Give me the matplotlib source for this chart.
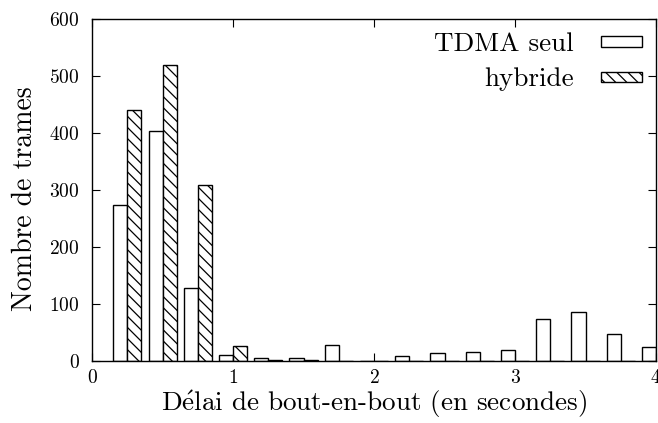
import matplotlib
matplotlib.use("Agg")
import matplotlib.pyplot as plt
import numpy as np

plt.rcParams['font.family'] = ['cmr10', 'DejaVu Serif']
plt.rcParams['mathtext.fontset'] = 'cm'
plt.rcParams['axes.formatter.use_mathtext'] = True
plt.rcParams['hatch.linewidth'] = 0.9

# delay bins (seconds)
delays = [0.25, 0.5, 0.75, 1.0, 1.25, 1.5, 1.75, 2.0,
          2.25, 2.5, 2.75, 3.0, 3.25, 3.5, 3.75, 4.0]
tdma_seul = [274, 404, 128, 11, 5, 5, 28, 0, 9, 14, 16, 19, 73, 85, 47, 25]
hybride = [441, 519, 308, 26, 2, 2, 0, 0, 0, 0, 0, 0, 0, 0, 0, 0]

x = np.array(delays)
w = 0.1

fig = plt.figure(figsize=(6.58, 4.23), dpi=100)
ax = fig.add_axes([0.14, 0.147, 0.857, 0.808])

ax.bar(x - w / 2, tdma_seul, width=w, color='white', edgecolor='black',
       linewidth=1, label='TDMA seul')
ax.bar(x + w / 2, hybride, width=w, color='white', edgecolor='black',
       linewidth=1, hatch='\\\\\\', label='hybride')

ax.set_xlim(0, 4)
ax.set_ylim(0, 600)
ax.set_xticks([0, 1, 2, 3, 4])
ax.set_yticks(range(0, 601, 100))
ax.tick_params(direction='in', length=6, top=True, right=True,
               labelsize=14, width=0.8)
ax.tick_params(axis='y', pad=9)
ax.tick_params(axis='x', pad=6)
for s in ax.spines.values():
    s.set_linewidth(1)

ax.set_xlabel(r'D$\mathrm{\acute{e}}$lai de bout-en-bout (en secondes)',
              fontsize=19.5, labelpad=1)
ax.set_ylabel('Nombre de trames', fontsize=20, labelpad=8, y=0.474)

ax.legend(loc='upper right', frameon=False, markerfirst=False,
          fontsize=19.5, handlelength=1.55, handleheight=0.2,
          labelspacing=0.42, borderaxespad=0.3, borderpad=0.2,
          handletextpad=1.0)

fig.savefig('out.png', dpi=100)
